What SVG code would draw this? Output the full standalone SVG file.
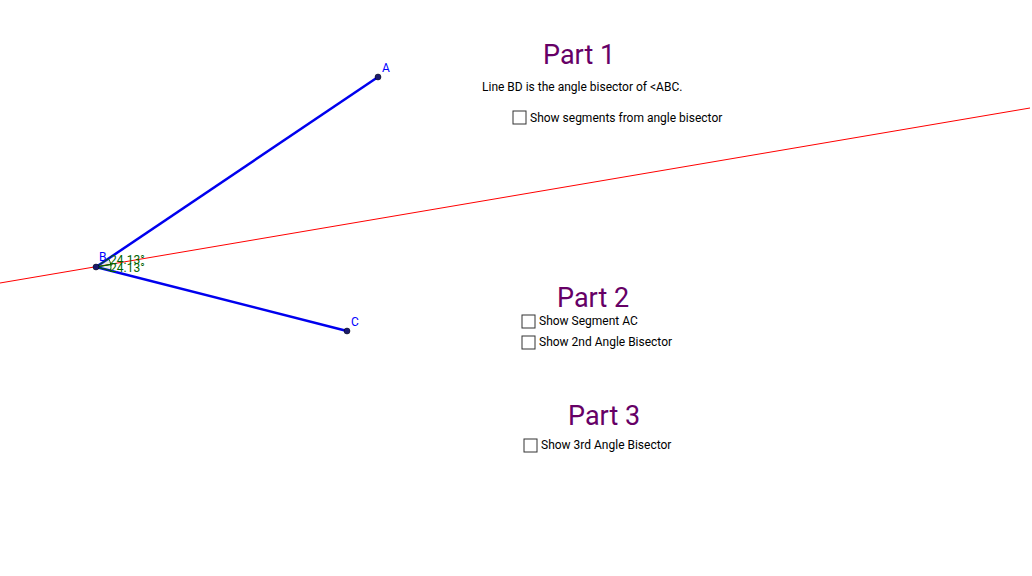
<svg xmlns="http://www.w3.org/2000/svg" width="1032" height="576" viewBox="0 0 1032 576">
<style>
.t{font-family:Roboto,"Liberation Sans",sans-serif}
.h{font-size:27px;fill:#660066}
.s{font-size:12px;fill:#000}
.cb{fill:#fff;stroke:#333;stroke-width:1}
.seg{stroke:#0000ee;stroke-width:2.5}
.pt{fill:#1a1a6e;stroke:#000;stroke-width:0.5}
.lbl{font-size:12px;fill:#0000ff}
.ang{font-size:12px;fill:#006400}
</style>
<rect width="1032" height="576" fill="#fff"/>
<g id="connectors">
<line x1="0" y1="283" x2="1030" y2="108" stroke="#ff0000" stroke-width="1"/>
<line class="seg" x1="96" y1="267" x2="378" y2="77"/>
<line class="seg" x1="96" y1="267" x2="347" y2="331"/>
<path d="M96 267 L108.4 258.6 A15 15 0 0 1 110.8 264.5 Z" fill="#006400" fill-opacity="0.1" stroke="#006400"/>
<path d="M96 267 L110.8 264.5 A15 15 0 0 1 110.5 270.7 Z" fill="#006400" fill-opacity="0.1" stroke="#006400"/>
</g>
<g id="A"><circle class="pt" cx="378" cy="77" r="3"/><text class="t lbl" x="382" y="72">A</text></g>
<g id="B"><circle class="pt" cx="96" cy="267" r="3"/><text class="t lbl" x="99" y="261">B</text></g>
<g id="C"><circle class="pt" cx="347" cy="331" r="3"/><text class="t lbl" x="351" y="326">C</text></g>
<g id="angles"><text class="t ang" x="110" y="264">24.13°</text><text class="t ang" x="110" y="272">24.13°</text></g>
<g id="part1">
<text class="t h" x="543" y="64">Part 1</text>
<text class="t s" x="482" y="91">Line BD is the angle bisector of &lt;ABC.</text>
<rect class="cb" x="513" y="111" width="13" height="13"/>
<text class="t s" x="530" y="122">Show segments from angle bisector</text>
</g>
<g id="part2">
<text class="t h" x="557" y="307">Part 2</text>
<rect class="cb" x="522" y="315" width="13" height="13"/>
<text class="t s" x="539" y="325">Show Segment AC</text>
<rect class="cb" x="522" y="336" width="13" height="13"/>
<text class="t s" x="539" y="346">Show 2nd Angle Bisector</text>
</g>
<g id="part3">
<text class="t h" x="568" y="425">Part 3</text>
<rect class="cb" x="524" y="439" width="13" height="13"/>
<text class="t s" x="541" y="449">Show 3rd Angle Bisector</text>
</g>
</svg>
